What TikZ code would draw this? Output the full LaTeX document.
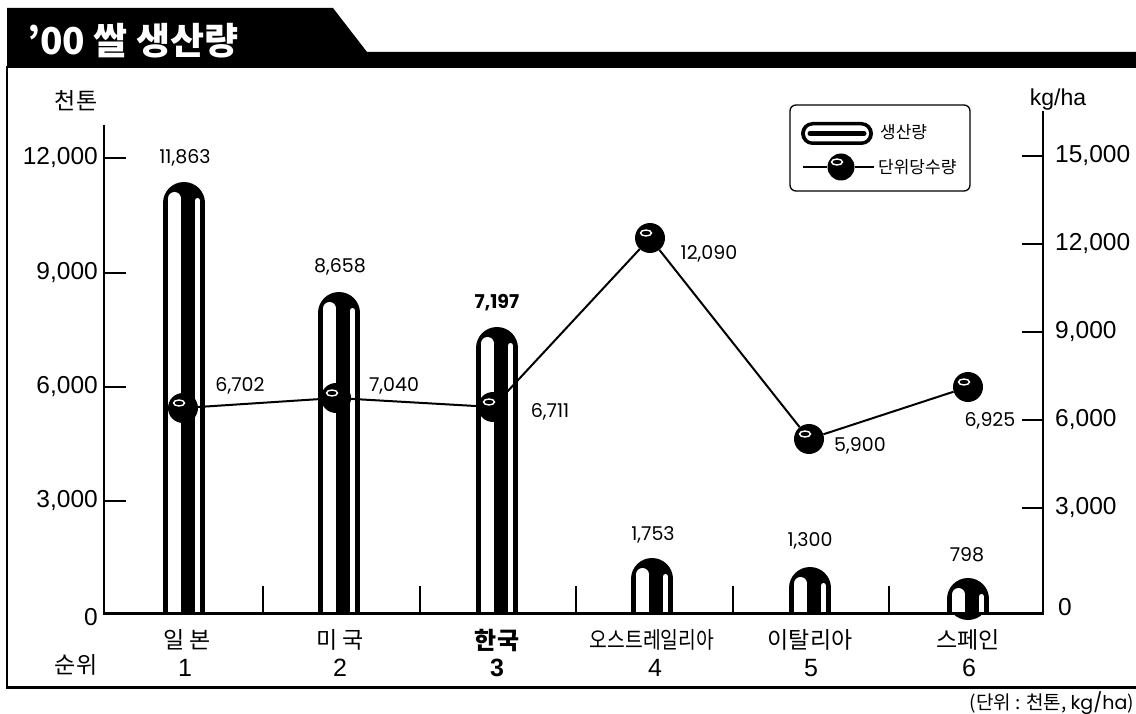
\documentclass[tikz,border=0pt]{standalone}
\usepackage{fontspec}
\setmainfont{Noto Sans CJK KR}
\newfontfamily\pop{Poppins}
\newfontfamily\ax{Liberation Sans}
\usetikzlibrary{calc}
\newcommand\ricebar[3]{%
  \fill[black] (#1,#2+21) circle (21);
  \fill[black] (#1-21,#2+21) rectangle (#1+21,#3);
  \fill[white] (#1-9.5,#2+16.5) circle (6.5);
  \fill[white] (#1-16,#2+16.5) rectangle (#1-3,#3);
  \fill[white] (#1+13.5,#2+18.5) circle (2.5);
  \fill[white] (#1+11,#2+18.5) rectangle (#1+16,#3);
}
\tikzset{
  ball/.style={circle,fill=black,minimum size=30pt,inner sep=0pt,
    path picture={\draw[white,line width=1.4pt] ([shift={(-4pt,5pt)}]path picture bounding box.center) ellipse [x radius=5.5pt,y radius=3pt];}},
  axlab/.style={font=\ax\fontsize{24.5}{26}\selectfont,inner sep=0pt},
  vallab/.style={font=\pop\fontsize{19}{21}\selectfont,inner sep=0pt},
  country/.style={font=\fontsize{23}{25}\selectfont,inner sep=0pt},
  rank/.style={font=\ax\fontsize{25}{27}\selectfont,inner sep=0pt},
  legtext/.style={font=\fontsize{17}{19}\selectfont,inner sep=0pt,anchor=west},
  conn/.style={line width=2pt},
  tick/.style={line width=1.2pt}
}
\begin{document}
\begin{tikzpicture}[x=1pt,y=-1pt]
\useasboundingbox (0,0) rectangle (1136,714);
% title tab
\fill[black] (7,8) -- (333,8) -- (367,52) -- (1140,52) -- (1140,68) -- (7,68) -- cycle;
\node[anchor=west,text=white,font=\bfseries\fontsize{37}{40}\selectfont,inner sep=0pt] (title) at (27,41) {'00 쌀 생산량};
% frame
\draw[line width=2.5pt] (7,66) -- (7,687);
\draw[line width=3pt] (6,687) -- (1140,687);
\node[anchor=east,font=\fontsize{19}{21}\selectfont,inner sep=0pt] (unit) at (1134,703) {(단위 : 천톤, {\pop kg/ha})};
% unit labels
\node[font=\fontsize{23}{25}\selectfont,inner sep=0pt] (lunit) at (76,101) {천톤};
\node[font=\ax\fontsize{23}{25}\selectfont,inner sep=0pt] (runit) at (1058,100) {kg/ha};
% bars
\ricebar{184}{182}{613}
\ricebar{339}{292}{613}
\ricebar{497}{327}{613}
\ricebar{652}{558}{613}
\ricebar{810}{567}{613}
\ricebar{968}{578}{613}
% axes
\draw[line width=1.5pt] (104,125) -- (104,614);
\draw[line width=1.5pt] (1043,111) -- (1043,613);
\draw[line width=3pt] (103,613) -- (1044,613);
\foreach \y in {158,273,387,501} \draw[tick] (104,\y) -- (126,\y);
\foreach \y in {156,244,332,420,508} \draw[tick] (1022,\y) -- (1043,\y);
\foreach \x in {263,420,576,733,889} \draw[tick] (\x,586) -- (\x,613);
% left labels
\node[axlab,anchor=east] (l12) at (98,158) {12,000};
\node[axlab,anchor=east] (l9) at (98,273) {9,000};
\node[axlab,anchor=east] (l6) at (98,387) {6,000};
\node[axlab,anchor=east] (l3) at (98,501) {3,000};
\node[axlab,anchor=east] (l0) at (98,617) {0};
% right labels
\node[axlab,anchor=west] (r15) at (1055,156) {15,000};
\node[axlab,anchor=west] (r12) at (1055,244) {12,000};
\node[axlab,anchor=west] (r9) at (1055,332) {9,000};
\node[axlab,anchor=west] (r6) at (1055,420) {6,000};
\node[axlab,anchor=west] (r3) at (1055,508) {3,000};
\node[axlab,anchor=west] (r0) at (1058,607) {0};
% bar values
\node[vallab] (v1) at (185,158) {11,863};
\node[vallab] (v2) at (340,267) {8,658};
\node[vallab,font=\pop\bfseries\fontsize{19}{21}\selectfont] (v3) at (497,303) {7,197};
\node[vallab] (v4) at (653,535) {1,753};
\node[vallab] (v5) at (810,541) {1,300};
\node[vallab] (v6) at (967,555) {798};
% yield line
\node[ball] (b1) at (183,408) {};
\node[ball] (b2) at (336,398) {};
\node[ball] (b3) at (493,407) {};
\node[ball] (b4) at (650,238) {};
\node[ball] (b5) at (809,439) {};
\node[ball] (b6) at (968,387) {};
\draw[conn] (b1) -- (b2) -- (b3) -- (b4) -- (b5) -- (b6);
\node[vallab] (y1) at (240,386) {6,702};
\node[vallab] (y2) at (394,386) {7,040};
\node[vallab] (y3) at (550,412) {6,711};
\node[vallab] (y4) at (709,254) {12,090};
\node[vallab] (y5) at (860,446) {5,900};
\node[vallab] (y6) at (990,421) {6,925};
% category labels
\node[country] (c1) at (187,640) {일 본};
\node[country] (c2) at (340,640) {미 국};
\node[country,font=\bfseries\fontsize{24}{26}\selectfont] (c3) at (497,640) {한국};
\node[country] (c4) at (652,640) {\scalebox{0.84}[1]{오스트레일리아}};
\node[country] (c5) at (810,640) {이탈리아};
\node[country] (c6) at (968,640) {스페인};
\node[country] (rk) at (76,665) {순위};
\node[rank] (n1) at (185,668) {1};
\node[rank] (n2) at (340,668) {2};
\node[rank,font=\ax\bfseries\fontsize{25}{27}\selectfont] (n3) at (497,668) {3};
\node[rank] (n4) at (655,668) {4};
\node[rank] (n5) at (811,668) {5};
\node[rank] (n6) at (969,668) {6};
% legend
\draw[line width=1.3pt,rounded corners=6pt] (790,105) rectangle (970,191);
\fill[black,rounded corners=11.5pt] (801,122) rectangle (873,145);
\fill[white,rounded corners=8pt] (805,125.5) rectangle (869,141.5);
\draw[line width=5pt,line cap=round] (810,133.5) -- (864,133.5);
\node[legtext] (lg1) at (880,132) {생산량};
\coordinate (la) at (803,167);
\coordinate (lb) at (874,167);
\node[ball,minimum size=27pt] (lball) at (841,167) {};
\draw[conn] (la) -- (lball) -- (lb);
\node[legtext] (lg2) at (878,167) {단위당수량};
\end{tikzpicture}
\end{document}
